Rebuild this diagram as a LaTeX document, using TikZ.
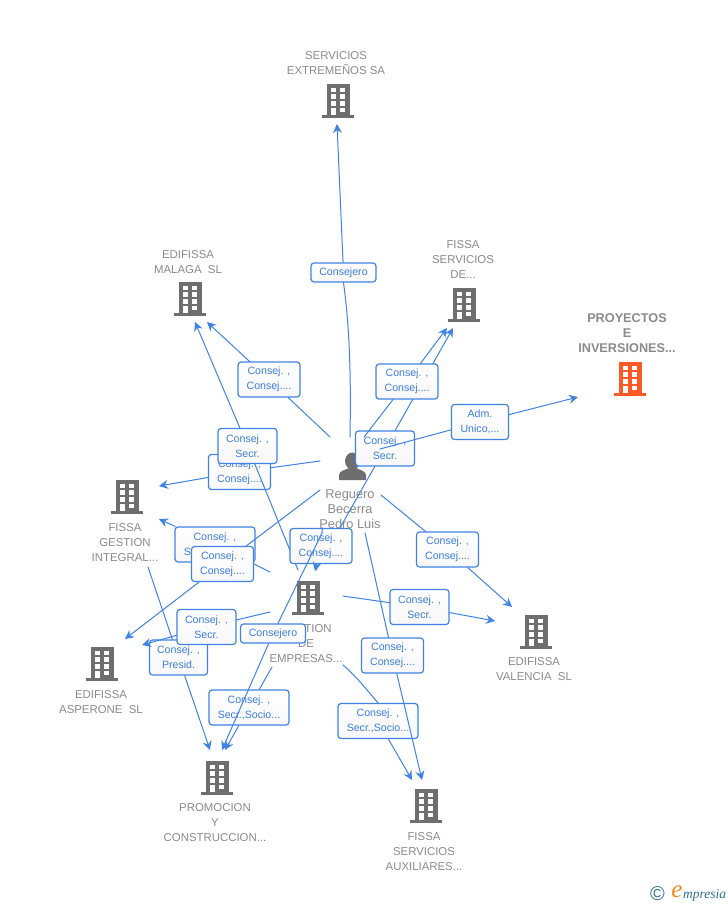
\documentclass[tikz,border=0pt]{standalone}
\usepackage{fontspec}
\setmainfont{Liberation Sans}
\newfontfamily\logofont{Liberation Serif}
\usetikzlibrary{arrows.meta}
\definecolor{linkblue}{HTML}{3F83E4}
\definecolor{tagblue}{HTML}{3B7DDD}
\definecolor{labelgray}{HTML}{8A8A8A}
\definecolor{icongray}{HTML}{6E6E6E}
\definecolor{hotorange}{HTML}{FF5A26}
\definecolor{logoteal}{HTML}{2F6F8F}
\definecolor{logoorange}{HTML}{F08A1D}
\tikzset{
    building/.pic = {
    \fill[#1] (-11,-17) rectangle (12,14);
    \fill[#1] (-16,14) rectangle (16,17);
    \fill[white] (-7,-12.7) rectangle (-2.3,-8.7);
    \fill[white] (2.3,-12.7) rectangle (7,-8.7);
    \fill[white] (-7,-6.7) rectangle (-2.3,-2);
    \fill[white] (2.3,-6.7) rectangle (7,-2);
    \fill[white] (-7,0) rectangle (-2.3,4.7);
    \fill[white] (2.3,0) rectangle (7,4.7);
    \fill[white] (-7,7) rectangle (-2.3,14);
    \fill[white] (2.3,7) rectangle (7,11);
    },
    person/.pic = {
    \fill[icongray] (0.5,-5) ellipse (7.5 and 8.5);
    \fill[icongray] (-13,14) -- (-13,9) .. controls (-13,5) and (-7,4) .. (-3,2) -- (4,2) .. controls (8,4) and (14,5) .. (14,9) -- (14,14) -- cycle;
    },
    link/.style = {draw=linkblue, line width=1pt, line cap=round, line join=round, -{Stealth[length=9pt,width=9pt,inset=3pt]}},
    tagbox/.style = {draw=linkblue, line width=1.2pt, rounded corners=3pt, top color=white, bottom color=white!97!black, text=tagblue, align=center, inner sep=0pt, minimum width=#1, minimum height=35pt, font=\fontsize{10.6}{15}\selectfont},
    tagline/.style = {tagbox=#1, minimum height=19pt},
    company/.style = {text=labelgray, align=center, inner sep=0pt, font=\fontsize{11.4}{15}\selectfont},
}
\begin{document}
\begin{tikzpicture}[x=1pt,y=-1pt]
\useasboundingbox (0,0) rectangle (728,905);

% buildings and captions
\path (338,101) pic {building=icongray};
\path (190,299) pic {building=icongray};
\path (464,305) pic {building=icongray};
\path (630,379) pic {building=hotorange};
\path (127,497) pic {building=icongray};
\path (102,664) pic {building=icongray};
\path (308,598) pic {building=icongray};
\path (536,632) pic {building=icongray};
\path (217,778) pic {building=icongray};
\path (426,806) pic {building=icongray};
\path (352,466) pic {person};

\node[company] (extremenos) at (336,63) {SERVICIOS\\EXTREMEÑOS SA};
\node[company] (malaga) at (188,262) {EDIFISSA\\MALAGA\ \ SL};
\node[company] (serviciosde) at (463,259.5) {FISSA\\SERVICIOS\\DE...};
\node[company, font=\bfseries\fontsize{12.7}{15}\selectfont] (proyectos) at (627,333.5) {PROYECTOS\\E\\INVERSIONES...};
\node[company] (integral) at (125,542.5) {FISSA\\GESTION\\INTEGRAL...};
\node[company] (asperone) at (101,702) {EDIFISSA\\ASPERONE\ \ SL};
\node[company] (empresas) at (306,643.5) {GESTION\\DE\\EMPRESAS...};
\node[company] (valencia) at (534,669) {EDIFISSA\\VALENCIA\ \ SL};
\node[company] (promocion) at (215,822.5) {PROMOCION\\Y\\CONSTRUCCION...};
\node[company] (auxiliares) at (424,851.5) {FISSA\\SERVICIOS\\AUXILIARES...};
\node[company, font=\fontsize{12.8}{15}\selectfont] (reguero) at (350,509.5) {Reguero\\Becerra\\Pedro Luis};

% free ends
\coordinate (perTop) at (350,437);
\coordinate (perMal) at (330,437);
\coordinate (perFis) at (364,437);
\coordinate (perPro) at (380,449);
\coordinate (perInt) at (320,461);
\coordinate (perAsp) at (320,490);
\coordinate (perVal) at (381,495);
\coordinate (perAux) at (365,533);
\coordinate (perGes) at (322,533);
\coordinate (gesMal) at (298,570);
\coordinate (gesFis) at (316,570);
\coordinate (gesInt) at (270,572);
\coordinate (gesAsp) at (270,612);
\coordinate (gesVal) at (343,596);
\coordinate (gesPro) at (272,667);
\coordinate (gesAux) at (343,665);
\coordinate (intPro) at (148,567);
\coordinate (toExt) at (337,124);
\coordinate (toMalA) at (207,322);
\coordinate (toMalB) at (195,322);
\coordinate (toFisA) at (447,328);
\coordinate (toFisB) at (453,328);
\coordinate (toPro) at (578,397);
\coordinate (toIntA) at (159,486);
\coordinate (toIntB) at (159,519);
\coordinate (toAspA) at (125,639);
\coordinate (toAspB) at (142,645);
\coordinate (toVal) at (512,607);
\coordinate (toValB) at (495,621);
\coordinate (toProA) at (210,750);
\coordinate (toProB) at (222,750);
\coordinate (toProC) at (225,750);
\coordinate (toAuxA) at (412,780);
\coordinate (toAuxB) at (422,780);
\coordinate (toGes) at (315,571);

% connectors with their tags
\node[tagline=65pt] (tagExt) at (343.5,272.5) {Consejero};
\draw[link] (perTop) .. controls (351,380) and (350,330) .. (tagExt.south) (tagExt) -- (toExt);
\node[tagbox=62pt] (tagMal) at (269,379.5) {Consej. ,\\Consej....};
\draw[link] (perMal) -- (tagMal) -- (toMalA);
\node[tagbox=62pt] (tagInt) at (239.5,472) {Consej. ,\\Consej....};
\draw[link] (perInt) -- (tagInt) -- (toIntA);
\node[tagbox=59pt] (tagMalB) at (247.5,446) {Consej. ,\\Secr.};
\draw[link] (gesMal) -- (tagMalB) -- (toMalB);
\node[tagbox=80pt] (tagIntB) at (215,544.5) {Consej. ,\\Secr.,Socio...};
\draw[link] (gesInt) -- (tagIntB) -- (toIntB);
\node[tagbox=62pt] (tagAsp) at (222.5,564) {Consej. ,\\Consej....};
\draw[link] (perAsp) -- (tagAsp) -- (toAspA);
\node[tagbox=59pt] (tagFisB) at (385,448.5) {Consej. ,\\Secr.};
\draw[link] (gesFis) -- (tagFisB) -- (toFisB);
\node[tagbox=62pt] (tagFis) at (407,381.5) {Consej. ,\\Consej....};
\draw[link] (perFis) -- (tagFis) -- (toFisA);
\node[tagbox=57pt] (tagPro) at (480,422) {Adm.\\Unico,...};
\draw[link] (perPro) -- (tagPro) -- (toPro);
\node[tagbox=62pt] (tagGes) at (321,546) {Consej. ,\\Consej....};
\draw[link] (perGes) -- (tagGes) -- (toGes);
\node[tagbox=80pt] (tagProC) at (249,707.5) {Consej. ,\\Secr.,Socio...};
\draw[link] (gesPro) -- (tagProC) -- (toProC);
\node[tagline=65pt] (tagProB) at (273,633.5) {Consejero};
\draw[link] (perGes) -- (tagProB) -- (toProB);
\node[tagbox=58pt] (tagProA) at (178.5,657.5) {Consej. ,\\Presid.};
\draw[link] (intPro) -- (tagProA) -- (toProA);
\node[tagbox=59pt] (tagAspB) at (206.5,627) {Consej. ,\\Secr.};
\draw[link] (gesAsp) -- (tagAspB) -- (toAspB);
\node[tagbox=62pt] (tagVal) at (447.5,549.5) {Consej. ,\\Consej....};
\draw[link] (perVal) -- (tagVal) -- (toVal);
\node[tagbox=59pt] (tagValB) at (419.5,607) {Consej. ,\\Secr.};
\draw[link] (gesVal) -- (tagValB) -- (toValB);
\node[tagbox=80pt] (tagAuxA) at (378,721) {Consej. ,\\Secr.,Socio...};
\draw[link] (gesAux) .. controls (355,675) and (367,690) .. (tagAuxA.north) (tagAuxA) -- (toAuxA);
\node[tagbox=62pt] (tagAuxB) at (392.5,655.5) {Consej. ,\\Consej....};
\draw[link] (perAux) -- (tagAuxB) -- (toAuxB);

% logo
\node[text=logoteal, inner sep=0pt, font=\fontsize{20}{20}\selectfont] (logoC) at (657.5,894) {©};
\node[text=logoorange, inner sep=0pt, font=\logofont\itshape\fontsize{25}{25}\selectfont] (logoE) at (677,892) {e};
\node[text=logoteal, inner sep=0pt, anchor=west, font=\logofont\itshape\fontsize{13.5}{13.5}\selectfont] (logoT) at (683,895) {mpresia};
\end{tikzpicture}
\end{document}
